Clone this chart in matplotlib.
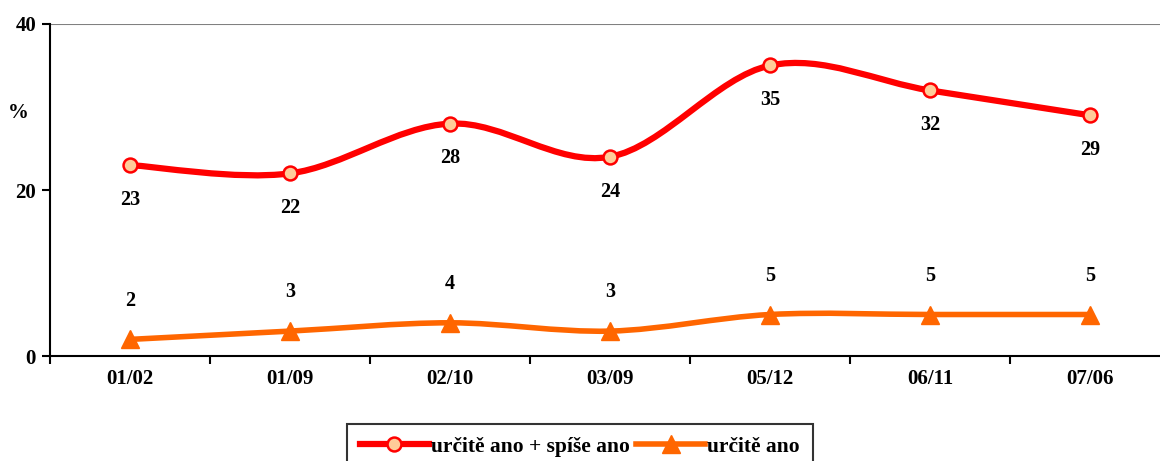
import numpy as np
import matplotlib
matplotlib.use("Agg")
from matplotlib import pyplot as plt
from matplotlib.path import Path
from matplotlib.patches import PathPatch
from matplotlib.lines import Line2D

plt.rcParams["font.family"] = ["Liberation Serif", "DejaVu Serif"]
plt.rcParams["font.weight"] = "bold"

categories = ["01/02", "01/09", "02/10", "03/09", "05/12", "06/11", "07/06"]
both_yes = [23, 22, 28, 24, 35, 32, 29]
sure_yes = [2, 3, 4, 3, 5, 5, 5]
labels = ["určitě ano + spíše ano", "určitě ano"]

RED = "#FF0000"
ORANGE = "#FF6600"
PEACH = "#FFCC99"


def smooth_path(xs, ys):
    # Excel-like smoothed line: cubic bezier through the points
    pts = np.column_stack([xs, ys]).astype(float)
    n = len(pts)
    verts = [pts[0]]
    codes = [Path.MOVETO]
    for i in range(n - 1):
        p0 = pts[max(i - 1, 0)]
        p1 = pts[i]
        p2 = pts[i + 1]
        p3 = pts[min(i + 2, n - 1)]
        c1 = p1 + (p2 - p0) / 6
        c2 = p2 - (p3 - p1) / 6
        verts += [c1, c2, p2]
        codes += [Path.CURVE4] * 3
    return Path(verts, codes)


fig = plt.figure(figsize=(11.6, 4.61), dpi=100)
ax = fig.add_axes([50 / 1160, 105 / 461, 1120 / 1160, 332 / 461])

x = np.arange(len(categories))

ax.add_patch(PathPatch(smooth_path(x, both_yes), fill=False, edgecolor=RED,
                       lw=4.5, capstyle="round", joinstyle="round", zorder=3))
ax.add_patch(PathPatch(smooth_path(x, sure_yes), fill=False, edgecolor=ORANGE,
                       lw=4, capstyle="round", joinstyle="round", zorder=3))
ax.plot(x, both_yes, ls="none", marker="o", ms=10, mfc=PEACH, mec=RED, mew=1.8, zorder=4)
ax.plot(x, sure_yes, ls="none", marker="^", ms=13, mfc=ORANGE, mec=ORANGE, zorder=4)

for xi, v in zip(x, both_yes):
    ax.annotate(str(v), (xi, v), xytext=(0, -25), textcoords="offset points",
                ha="center", va="center", fontsize=14.5, fontweight="bold")
for xi, v in zip(x, sure_yes):
    ax.annotate(str(v), (xi, v), xytext=(0, 28), textcoords="offset points",
                ha="center", va="center", fontsize=14.5, fontweight="bold")

ax.set_xlim(-0.5, len(categories) - 0.5)
ax.set_ylim(0, 40)
ax.set_yticks([0, 20, 40])
ax.set_xticks(x)
ax.set_xticklabels(categories, fontsize=15, fontweight="bold")
ax.set_xticks(np.arange(len(categories) + 1) - 0.5, minor=True)
ax.tick_params(axis="x", which="major", length=0, pad=9)
ax.tick_params(axis="x", which="minor", length=6, width=1.5, direction="out")
ax.tick_params(axis="y", length=6, width=1.5, direction="out", labelsize=15, pad=4)
for t in ax.get_yticklabels():
    t.set_fontweight("bold")

ax.axhline(40, color="#808080", lw=1.5, zorder=1)
ax.spines["top"].set_visible(False)
ax.spines["right"].set_visible(False)
ax.spines["left"].set_linewidth(1.5)
ax.spines["bottom"].set_linewidth(1.5)

fig.text(18 / 1160, 1 - 113 / 461, "%", ha="center", va="center",
         fontsize=15, fontweight="bold")

handles = [
    Line2D([], [], color=RED, lw=4.5, marker="o", ms=10, mfc=PEACH, mec=RED, mew=1.8),
    Line2D([], [], color=ORANGE, lw=4, marker="^", ms=13, mfc=ORANGE, mec=ORANGE),
]
leg = fig.legend(handles, labels, loc="upper center", bbox_to_anchor=(0.5, 1 - 424 / 461),
                 ncol=2, frameon=True, fancybox=False, edgecolor="black",
                 handlelength=3.2, handletextpad=0.1, columnspacing=0.3,
                 borderpad=0.6, borderaxespad=0, prop={"size": 15.5, "weight": "bold"})
leg.get_frame().set_linewidth(1.5)

fig.savefig("out.png", dpi=100)
